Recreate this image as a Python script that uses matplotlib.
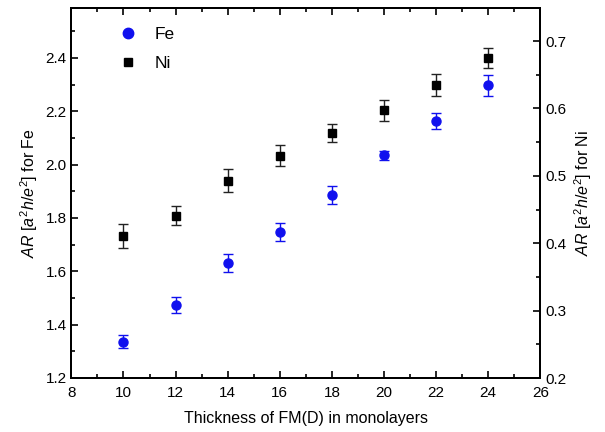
import matplotlib
matplotlib.use('Agg')
import matplotlib.pyplot as plt
from matplotlib.ticker import MultipleLocator

plt.rcParams['font.family'] = ['Liberation Sans', 'DejaVu Sans']
plt.rcParams['mathtext.fontset'] = 'custom'
plt.rcParams['mathtext.rm'] = 'Liberation Sans'
plt.rcParams['mathtext.it'] = 'Liberation Sans:italic'

thickness = [10, 12, 14, 16, 18, 20, 22, 24]
ar_fe = [1.336, 1.474, 1.630, 1.746, 1.886, 2.036, 2.164, 2.297]
err_fe = [0.025, 0.030, 0.034, 0.034, 0.034, 0.017, 0.029, 0.040]
ar_ni = [0.411, 0.441, 0.493, 0.530, 0.564, 0.597, 0.635, 0.675]
err_ni = [0.018, 0.014, 0.0165, 0.016, 0.0136, 0.016, 0.016, 0.015]

fig = plt.figure(figsize=(6.05, 4.32), dpi=100)
ax = fig.add_axes([0.118, 0.125, 0.775, 0.8565])
ax2 = ax.twinx()

ax.errorbar(thickness, ar_fe, yerr=err_fe, fmt='o', color='#1010ee',
            ecolor='#1010ee', ms=6.5, capsize=3.5, elinewidth=1, capthick=1)
ax2.errorbar(thickness, ar_ni, yerr=err_ni, fmt='s', color='black',
             ecolor='#222222', ms=5.5, capsize=3.5, elinewidth=1, capthick=1)

ax.set_xlim(8, 26)
ax.set_ylim(1.2, 2.5875)
ax2.set_ylim(0.2, 0.749)

ax.xaxis.set_major_locator(MultipleLocator(2))
ax.xaxis.set_minor_locator(MultipleLocator(1))
ax.yaxis.set_major_locator(MultipleLocator(0.2))
ax.yaxis.set_minor_locator(MultipleLocator(0.1))
ax2.yaxis.set_major_locator(MultipleLocator(0.1))
ax2.yaxis.set_minor_locator(MultipleLocator(0.05))

ax.tick_params(which='both', direction='in', top=True, right=False, width=1.2, labelsize=11)
ax.tick_params(which='major', length=5)
ax.tick_params(which='minor', length=3)
ax2.tick_params(which='both', direction='in', width=1.2, labelsize=11)
ax2.tick_params(which='major', length=5)
ax2.tick_params(which='minor', length=3)
ax.tick_params(axis='x', pad=6)

for a in (ax, ax2):
    for s in a.spines.values():
        s.set_linewidth(1.4)

ax.set_xlabel('Thickness of FM(D) in monolayers', fontsize=11.5, labelpad=8)
ax.set_ylabel(r'$AR$ [$a^2h/e^2$] for Fe', fontsize=11.5)
ax2.set_ylabel(r'$AR$ [$a^2h/e^2$] for Ni', fontsize=11.5)

h1 = ax.plot([], [], 'o', color='#1010ee', ms=7.5)[0]
h2 = ax.plot([], [], 's', color='black', ms=6)[0]
ax2.legend([h1, h2], ['Fe', 'Ni'], loc='upper left', bbox_to_anchor=(0.05, 0.99),
           frameon=False, fontsize=12.5, handletextpad=0.55, labelspacing=0.75)

fig.savefig('out.png', dpi=100)
